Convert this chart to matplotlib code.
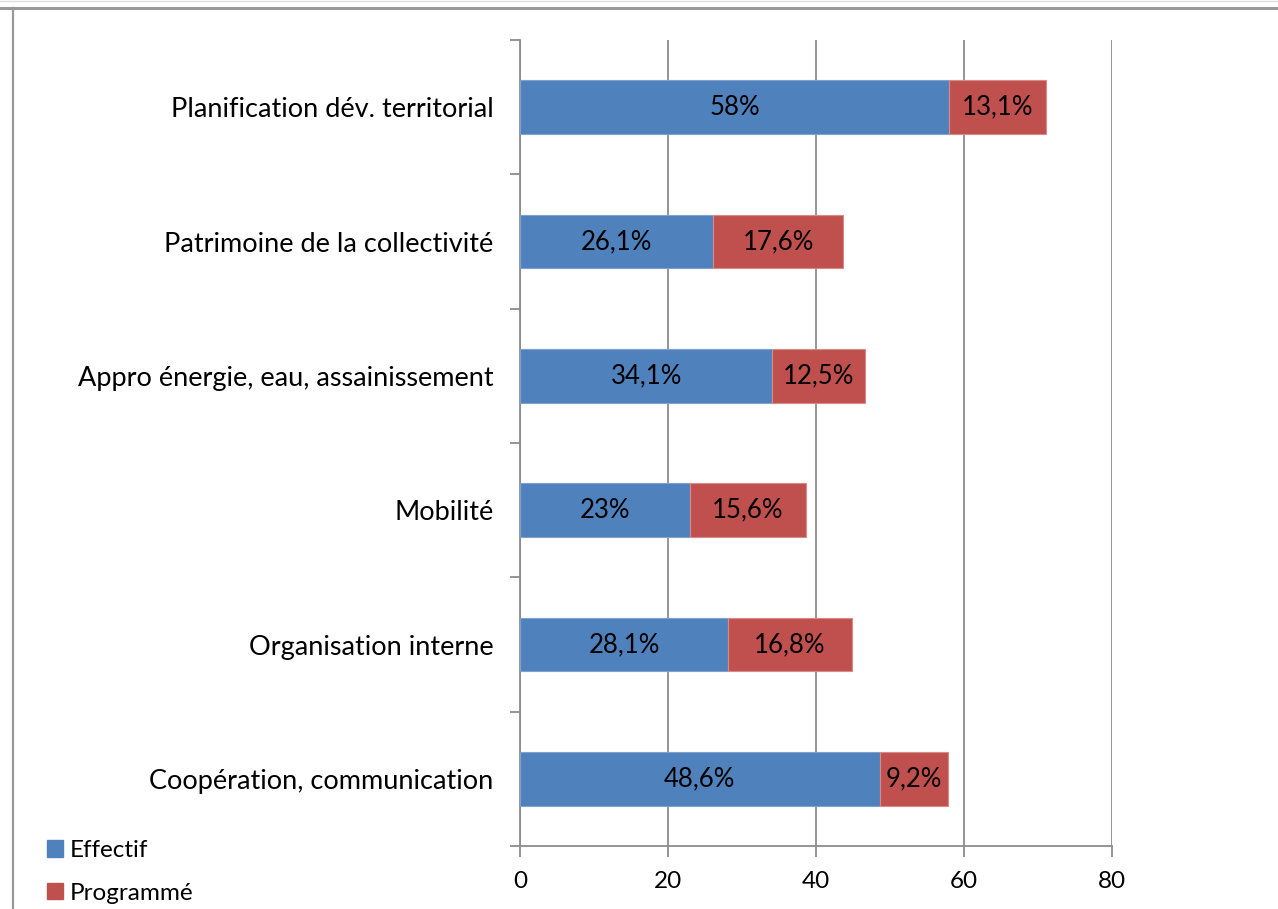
import matplotlib
matplotlib.use("Agg")
import matplotlib.pyplot as plt
from matplotlib.lines import Line2D
from matplotlib.patches import Patch
import numpy as np

categories = ["Coopération, communication", "Organisation interne", "Mobilité",
              "Appro énergie, eau, assainissement", "Patrimoine de la collectivité",
              "Planification dév. territorial"]
effectif = [48.6, 28.1, 23.0, 34.1, 26.1, 58.0]
programme = [9.2, 16.8, 15.6, 12.5, 17.6, 13.1]
effectif_labels = ["48,6%", "28,1%", "23%", "34,1%", "26,1%", "58%"]
programme_labels = ["9,2%", "16,8%", "15,6%", "12,5%", "17,6%", "13,1%"]
xticks = [0, 20, 40, 60, 80]

plt.rcParams['font.family'] = ['Lato', 'DejaVu Sans']
W, H = 1278, 909
fig = plt.figure(figsize=(W/100, H/100), dpi=100)
ax = fig.add_axes([520/W, 1-846/H, (1112-520)/W, (846-40)/H])

blue = "#4F81BD"
red = "#C0504D"
y = np.arange(len(categories))
bh = 0.4
ax.barh(y, effectif, height=bh, color=blue, edgecolor="#7FA1CF", linewidth=0.8, zorder=3)
ax.barh(y, programme, left=effectif, height=bh, color=red, edgecolor="#D98A88", linewidth=0.8, zorder=3)
for i in range(len(categories)):
    ax.text(effectif[i]/2, y[i], effectif_labels[i], ha="center", va="center", fontsize=18.5, color="black", zorder=4)
    ax.text(effectif[i] + programme[i]/2, y[i], programme_labels[i], ha="center", va="center", fontsize=18.5, color="black", zorder=4)

ax.set_xlim(0, 80)
ax.set_ylim(-0.5, len(categories)-0.5)
ax.set_xticks(xticks)
ax.set_xticklabels([str(t) for t in xticks], fontsize=17.5)
ax.set_yticks(y)
ax.set_yticklabels(categories, fontsize=19.5)
ax.set_yticks(np.arange(-0.5, len(categories), 1), minor=True)
ax.tick_params(axis="y", which="major", length=0, pad=19)
ax.tick_params(axis="y", which="minor", length=7, color="#8C8C8C", width=1.3, direction="out")
ax.tick_params(axis="x", which="major", length=8, color="#8C8C8C", width=1.3, direction="out", pad=10)
ax.grid(axis="x", color="#8C8C8C", linewidth=1.3, zorder=0)
for s in ["top", "right"]:
    ax.spines[s].set_visible(False)
for s in ["left", "bottom"]:
    ax.spines[s].set_color("#8C8C8C")
    ax.spines[s].set_linewidth(1.3)

# frame lines of the chart area
fig.add_artist(Line2D([0, 1], [1-7.5/H, 1-7.5/H], transform=fig.transFigure, color="#999999", linewidth=2.2))
fig.add_artist(Line2D([12.5/W, 12.5/W], [0, 1-7.5/H], transform=fig.transFigure, color="#999999", linewidth=1.6))
fig.add_artist(Line2D([0, 1], [1-0.5/H, 1-0.5/H], transform=fig.transFigure, color="#DDDDDD", linewidth=1))

handles = [Patch(facecolor=blue, edgecolor=blue), Patch(facecolor=red, edgecolor=red)]
fig.legend(handles, ["Effectif", "Programmé"], loc="upper left", bbox_to_anchor=(47/W, 1-840/H),
           frameon=False, fontsize=17.5, handlelength=0.65, handleheight=0.65, handletextpad=0.3,
           labelspacing=0.9, borderaxespad=0, borderpad=0)

fig.savefig("out.png", dpi=100)
